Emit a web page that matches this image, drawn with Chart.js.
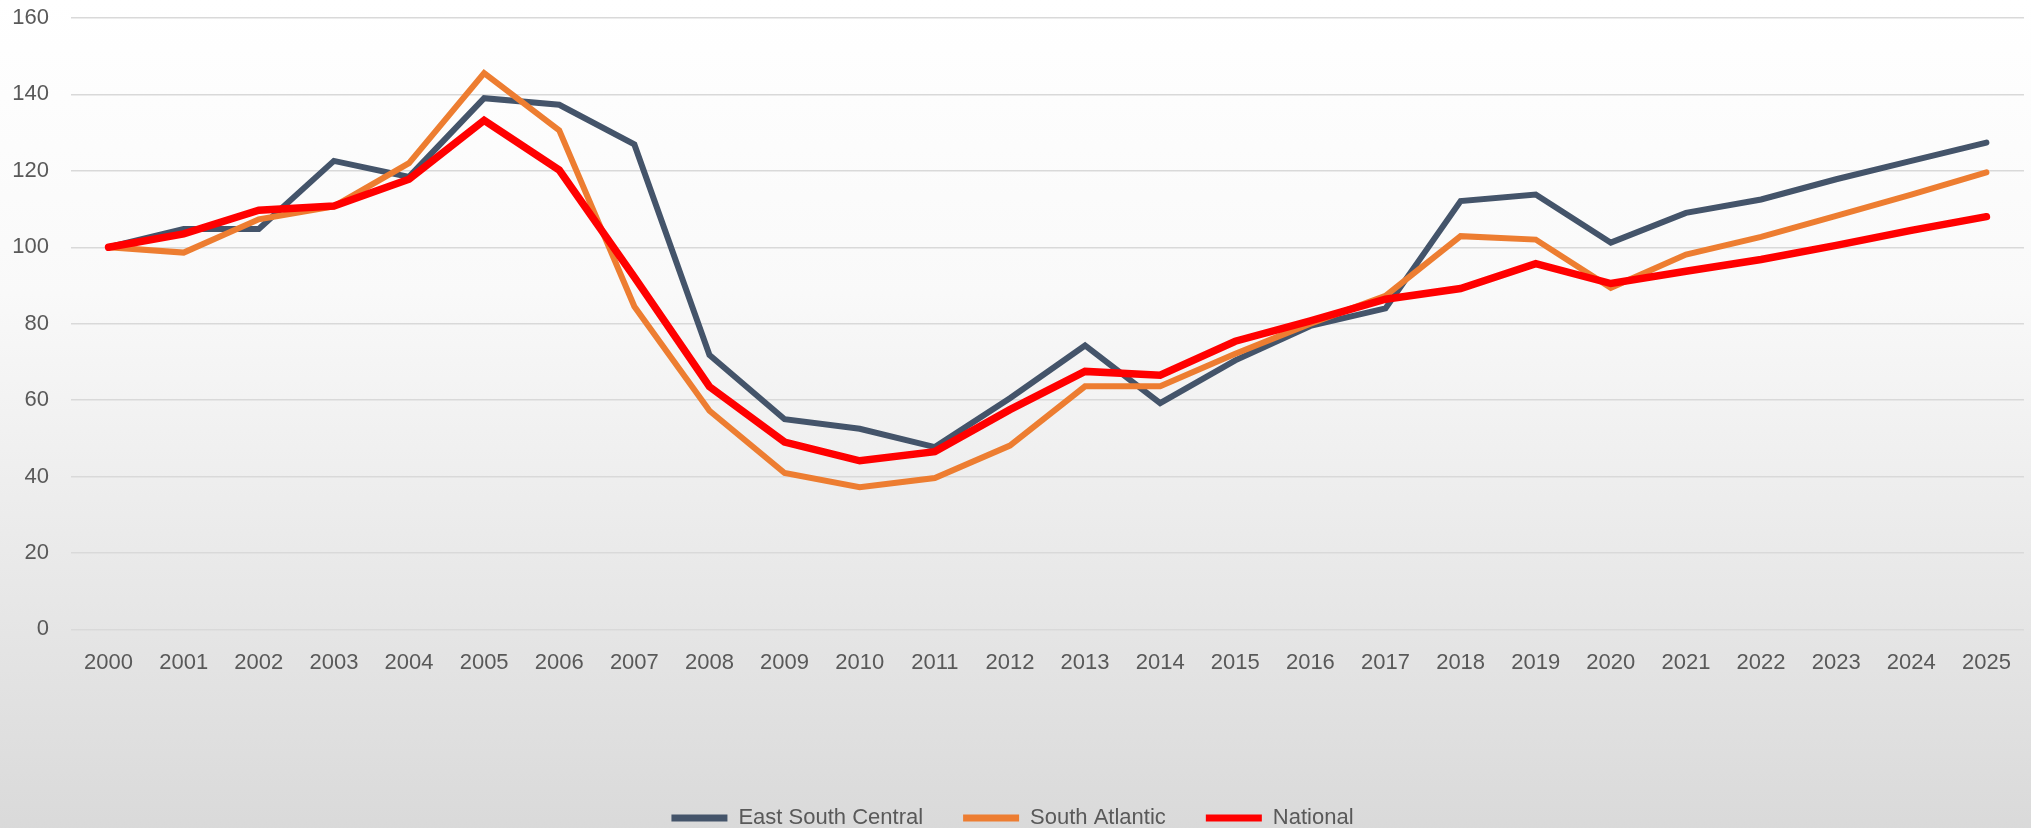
<!DOCTYPE html>
<html>
<head>
<meta charset="utf-8">
<script src="https://cdn.jsdelivr.net/npm/chart.js@4.4.1/dist/chart.umd.min.js"></script>
<style>
  html, body { margin: 0; padding: 0; overflow: hidden; }
  body { width: 2031px; height: 828px; }
  #wrap {
    width: 2031px; height: 839px; position: relative;
    background: linear-gradient(to bottom, #ffffff 0%, #f9f9f9 35%, #d9d9d9 100%);
  }
</style>
</head>
<body>
<div id="wrap"><canvas id="myChart"></canvas></div>
<script>
const years = ["2000","2001","2002","2003","2004","2005","2006","2007","2008","2009","2010","2011","2012",
  "2013","2014","2015","2016","2017","2018","2019","2020","2021","2022","2023","2024","2025"];

const eastSouthCentral = [100, 104.8, 104.8, 122.6, 118.4, 139.0, 137.3, 126.9, 71.8, 55.0, 52.5, 47.7, 60.5,
  74.3, 59.2, 70.4, 79.4, 84.0, 112.1, 113.8, 101.2, 109.0, 112.5, 117.8, 122.6, 127.4];
const southAtlantic = [100, 98.6, 107.3, 110.7, 122.0, 145.6, 130.6, 84.5, 57.2, 40.9, 37.2, 39.6, 48.1,
  63.6, 63.6, 72.1, 80.0, 87.3, 102.9, 102.0, 89.4, 98.1, 102.7, 108.2, 113.8, 119.6];
const national = [100, 103.5, 109.7, 110.8, 117.8, 133.2, 120.2, 92.2, 63.5, 49.0, 44.1, 46.5, 57.5,
  67.5, 66.5, 75.4, 80.7, 86.4, 89.2, 95.7, 90.5, 93.7, 96.8, 100.5, 104.4, 108.0];

const yTicks = [0, 20, 40, 60, 80, 100, 120, 140, 160];

Chart.defaults.font.family = "'Liberation Sans', Arial, sans-serif";
Chart.defaults.color = "#595959";

const defaultLabels = Chart.defaults.plugins.legend.labels.generateLabels;

new Chart(document.getElementById("myChart"), {
  type: "line",
  data: {
    labels: years,
    datasets: [{
      label: "East South Central",
      data: eastSouthCentral,
      borderColor: "#44546A",
      backgroundColor: "#44546A",
      borderWidth: 6,
      order: 2
    }, {
      label: "South Atlantic",
      data: southAtlantic,
      borderColor: "#ED7D31",
      backgroundColor: "#ED7D31",
      borderWidth: 6,
      order: 1
    }, {
      label: "National",
      data: national,
      borderColor: "#FF0000",
      backgroundColor: "#FF0000",
      borderWidth: 7.5,
      order: 0
    }]
  },
  options: {
    responsive: true,
    maintainAspectRatio: false,
    animation: false,
    elements: {
      point: { radius: 0, hoverRadius: 0 },
      line: { tension: 0, borderCapStyle: "round", borderJoinStyle: "miter" }
    },
    layout: { padding: { left: 0, right: 6, top: 18, bottom: 0 } },
    plugins: {
      tooltip: { enabled: false },
      legend: {
        position: "bottom",
        labels: {
          boxWidth: 56,
          boxHeight: 7,
          padding: 40,
          color: "#595959",
          font: { size: 22 },
          sort: (a, b) => a.datasetIndex - b.datasetIndex,
          generateLabels: function (chart) {
            return defaultLabels(chart).map(item => Object.assign(item, { lineWidth: 0 }));
          }
        }
      }
    },
    scales: {
      x: {
        offset: true,
        grid: { display: false, drawTicks: false },
        border: { display: false },
        ticks: { autoSkip: false, maxRotation: 0, padding: 20, font: { size: 22 }, color: "#595959" },
        afterFit: function (scale) { scale.height = 137.7; }
      },
      y: {
        min: 0,
        max: 160,
        afterBuildTicks: function (scale) { scale.ticks = yTicks.map(v => ({ value: v })); },
        grid: { color: "#d9d9d9", lineWidth: 1.4, drawTicks: false },
        border: { display: false },
        ticks: { padding: 22, font: { size: 22 }, color: "#595959" },
        afterFit: function (scale) { scale.width = 71; scale.paddingTop = 0; scale.paddingBottom = 0; }
      }
    }
  }
});
</script>
</body>
</html>
